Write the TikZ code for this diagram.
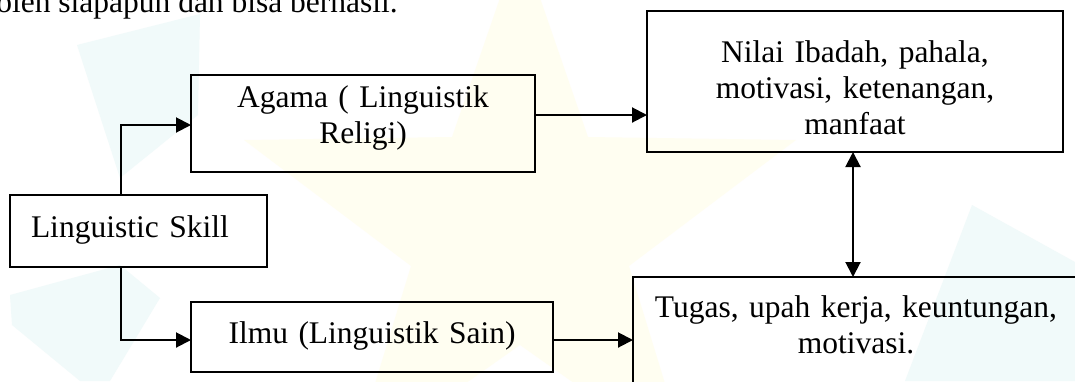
\documentclass[tikz,border=0pt]{standalone}
\usepackage{fontspec}
\setmainfont{Liberation Serif}
\usetikzlibrary{arrows.meta}
\definecolor{wmyellow}{HTML}{FFFEF1}
\definecolor{wmcyan}{HTML}{F1FAFA}
\begin{document}
\begin{tikzpicture}[x=1pt,y=-1pt,
  txt/.style={font=\fontsize{31.5}{36.2}\selectfont},
  box/.style={txt, draw, line width=1.8pt, inner xsep=0pt, inner ysep=0pt,
    outer sep=0pt, align=center, anchor=north west},
  arr/.style={line width=2pt, -{Triangle[length=15pt,width=15pt]}},
  ]
\useasboundingbox (0,0) rectangle (1075,381);
\clip (0,0) rectangle (1075,381);
\fill[white] (0,0) rectangle (1075,381);
% faint watermark
\fill[wmyellow] (520,-60) -- (588,137) -- (796,140) -- (629,266) -- (690,465)
  -- (520,345) -- (350,465) -- (411,266) -- (244,140) -- (452,137) -- cycle;
\fill[wmcyan] (77,45) -- (200,14) -- (198,115) -- (120,178) -- (98,110) -- cycle;
\fill[wmcyan] (10,295) -- (120,265) -- (160,298) -- (110,381) -- (80,381) -- (12,325) -- cycle;
\fill[wmcyan] (905,381) -- (972,205) -- (1075,262) -- (1075,381) -- cycle;
% text above (cut by the top edge, as in the reference)
\node[txt, anchor=base east, inner sep=0pt] (intro) at (398,12) {oleh siapapun dan bisa berhasil.};
% boxes
\node[box, text width=215pt, inner xsep=21pt, align=left, text height=42pt, text depth=30pt]
  (ling) at (10,195) {Linguistic Skill};
\node[box, text width=344pt, text height=32pt, text depth=65pt]
  (agama) at (191,75) {Agama ( Linguistik\\Religi)};
\node[box, text width=362pt, text height=41pt, text depth=29pt]
  (ilmu) at (191,302) {Ilmu (Linguistik Sain)};
\node[box, text width=416pt, text height=51pt, text depth=90pt]
  (nilai) at (647,11) {Nilai Ibadah, pahala,\\motivasi, ketenangan,\\manfaat};
\node[box, text width=446pt, text height=40pt, text depth=100pt]
  (tugas) at (633,277) {Tugas, upah kerja, keuntungan,\\motivasi.};
% connectors
\draw[arr] ([xshift=-17.5pt]ling.north) |- ([yshift=-1.5pt]agama.west);
\draw[arr] ([xshift=-17.5pt]ling.south) |- ([yshift=-3pt]ilmu.west);
\draw[arr] ([yshift=8.5pt]agama.east) -- ([yshift=8.5pt]agama.east -| nilai.west);
\draw[arr] ([yshift=-3pt]ilmu.east) -- ([yshift=-3pt]ilmu.east -| tugas.west);
\draw[line width=2pt, {Triangle[length=15pt,width=15pt]}-{Triangle[length=15pt,width=15pt]}]
  ([xshift=-2pt]nilai.south) -- ([xshift=-2pt]nilai.south |- tugas.north);
\end{tikzpicture}
\end{document}
